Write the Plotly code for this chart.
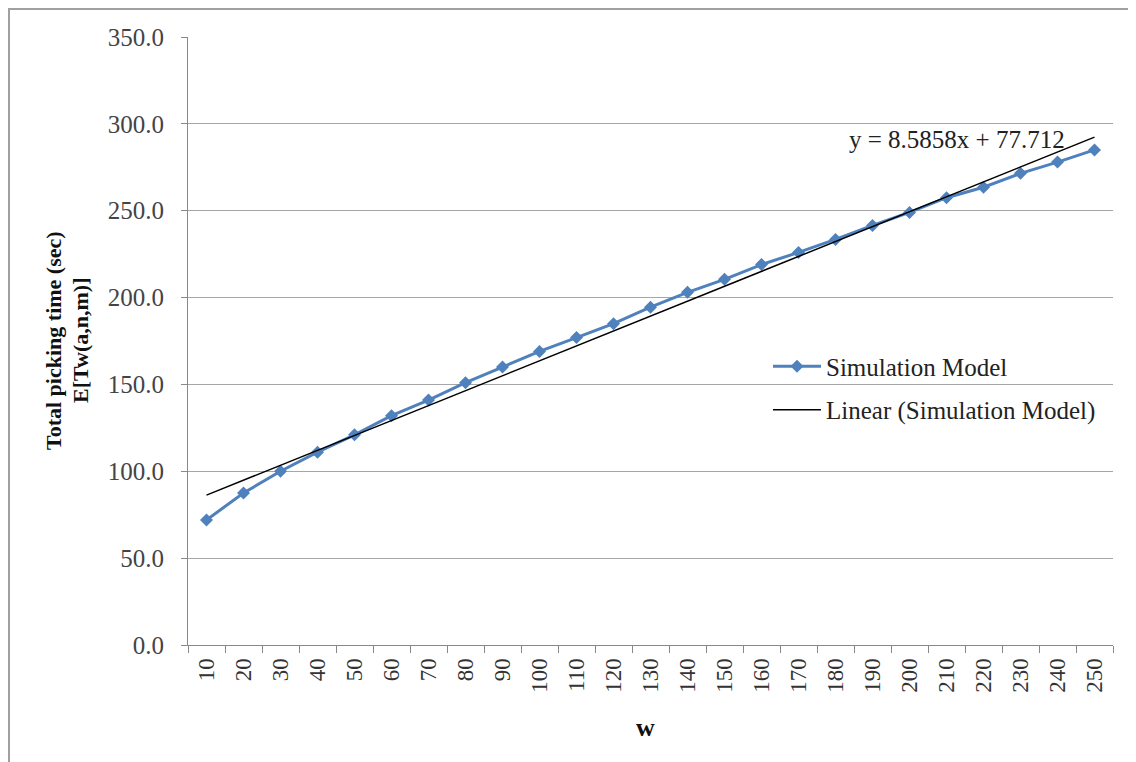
import plotly.graph_objects as go

w_labels = ["10", "20", "30", "40", "50", "60", "70", "80", "90", "100", "110", "120", "130",
            "140", "150", "160", "170", "180", "190", "200", "210", "220", "230", "240", "250"]
sim_values = [72.0, 87.5, 100.0, 111.0, 121.0, 132.0, 141.0, 151.0, 160.0, 169.0, 177.0, 185.0,
              194.5, 203.0, 210.5, 219.0, 226.0, 233.5, 241.5, 249.0, 257.5, 263.5, 271.5, 278.0, 285.0]
trend_slope = 8.5858
trend_intercept = 77.712
y_ticks = [0, 50, 100, 150, 200, 250, 300, 350]

trend_values = [trend_slope * (i + 1) + trend_intercept for i in range(len(w_labels))]

FONT = "Liberation Serif, Times New Roman, serif"

fig = go.Figure()
fig.add_trace(go.Scatter(
    x=w_labels, y=sim_values, mode="lines+markers", name="Simulation Model",
    legendgroup="a",
    line=dict(color="#4F81BD", width=3),
    marker=dict(symbol="diamond", size=10, color="#4F81BD"),
))
fig.add_trace(go.Scatter(
    x=w_labels, y=trend_values, mode="lines", name="Linear (Simulation Model)",
    legendgroup="b",
    line=dict(color="#000000", width=1.5),
))

# trendline equation
fig.add_annotation(
    x=0.831, y=0.8306, xref="paper", yref="paper", text="y = 8.5858x + 77.712",
    showarrow=False, xanchor="center", yanchor="middle",
    font=dict(family=FONT, size=25, color="#222222"),
)
# y axis title (two lines)
fig.add_annotation(
    x=-0.1460, y=0.5016, xref="paper", yref="paper", text="<b>Total picking time (sec)</b>",
    showarrow=False, textangle=-90, xanchor="center", yanchor="middle",
    font=dict(family=FONT, size=22, color="#111111"),
)
fig.add_annotation(
    x=-0.1168, y=0.5016, xref="paper", yref="paper", text="<b>E[Tw(a,n,m)]</b>",
    showarrow=False, textangle=-90, xanchor="center", yanchor="middle",
    font=dict(family=FONT, size=22, color="#111111"),
)
# x axis title
fig.add_annotation(
    x=0.495, y=-0.1349, xref="paper", yref="paper", text="<b>w</b>",
    showarrow=False, xanchor="center", yanchor="middle",
    font=dict(family=FONT, size=26, color="#111111"),
)

# outer chart border
fig.add_shape(type="rect", xref="paper", yref="paper",
              x0=-0.1935, x1=1.0195, y0=-0.202, y1=1.046,
              line=dict(color="#a0a0a0", width=2), layer="below")

fig.update_layout(
    width=1128, height=754,
    margin=dict(l=180, r=23, t=29, b=117),
    paper_bgcolor="white", plot_bgcolor="white",
    font=dict(family=FONT, size=20, color="#333333"),
    showlegend=True,
    legend=dict(x=0.627, y=0.4227, xanchor="left", yanchor="middle",
                font=dict(family=FONT, size=25, color="#222222"),
                bgcolor="rgba(0,0,0,0)", traceorder="grouped", tracegroupgap=8,
                itemwidth=48),
    xaxis=dict(
        type="category", tickangle=-90, showgrid=False,
        showline=True, linecolor="#888888", linewidth=1,
        ticks="outside", tickson="boundaries", ticklen=7, tickcolor="#888888",
        ticklabelstandoff=3,
        tickfont=dict(family=FONT, size=23, color="#333333"),
        range=[-0.5, 24.5],
    ),
    yaxis=dict(
        range=[0, 350], tickvals=y_ticks, tickformat=".1f",
        showgrid=True, gridcolor="#a6a6a6", gridwidth=1,
        showline=True, linecolor="#888888", linewidth=1,
        ticks="outside", ticklen=6, tickcolor="#888888",
        ticklabelstandoff=12, zeroline=False,
        tickfont=dict(family=FONT, size=25, color="#444444"),
    ),
)

fig.write_html("out.html")
